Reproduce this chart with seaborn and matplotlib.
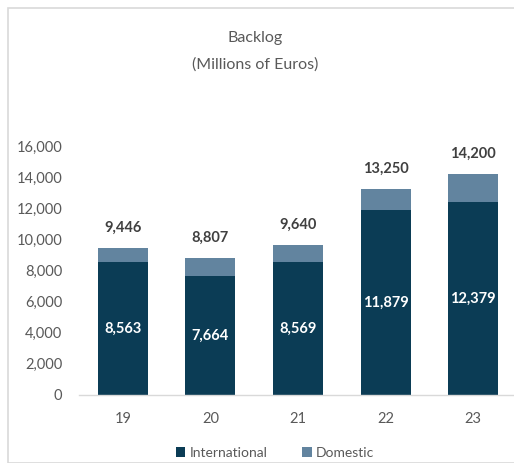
import matplotlib
matplotlib.use("Agg")
import matplotlib.pyplot as plt
import seaborn as sns
import pandas as pd
import numpy as np
from matplotlib.patches import Rectangle, Patch
from matplotlib.ticker import FuncFormatter, FixedLocator

years = ["19", "20", "21", "22", "23"]
international = [8563, 7664, 8569, 11879, 12379]
total = [9446, 8807, 9640, 13250, 14200]
series_names = ["International", "Domestic"]

c_int = "#0B3C55"
c_dom = "#62849F"
c_text = "#595959"

sns.set_theme(style="white")
plt.rcParams["font.family"] = ["Lato", "DejaVu Sans"]

df = pd.DataFrame({"year": years, "international": international, "total": total})

fig = plt.figure(figsize=(5.14, 4.63), dpi=100)
ax = fig.add_axes([79/514, 1-395/463, 438/514, 249/463])

sns.barplot(data=df, x="year", y="total", color=c_dom, width=0.57, ax=ax,
            saturation=1, linewidth=0)
sns.barplot(data=df, x="year", y="international", color=c_int, width=0.57, ax=ax,
            saturation=1, linewidth=0)

ax.set_ylim(0, 16000)
ax.set_xlim(-0.5, 4.5)
ax.set_yticks(np.arange(0, 16001, 2000))
ax.yaxis.set_major_formatter(FuncFormatter(lambda v, p: f"{int(v):,}"))
ax.set_xlabel("")
ax.set_ylabel("")
for s in ["top", "right", "left"]:
    ax.spines[s].set_visible(False)
ax.spines["bottom"].set_color("#D9D9D9")
ax.spines["bottom"].set_linewidth(1)
ax.tick_params(axis="y", length=0, labelsize=10.5, labelcolor=c_text, pad=12)
ax.tick_params(axis="x", which="major", length=0, labelsize=10.5, labelcolor=c_text, pad=12)
ax.xaxis.set_minor_locator(FixedLocator(np.arange(-0.5, 4.6, 1.0)))
ax.tick_params(axis="x", which="minor", length=5, color="#D9D9D9", width=1, direction="out")

for i, (iv, tv) in enumerate(zip(international, total)):
    ax.text(i, iv / 2, f"{iv:,}", ha="center", va="center", color="white",
            fontsize=10.5, fontweight="bold")
    ax.text(i, tv + 1300, f"{tv:,}", ha="center", va="center", color="#404040",
            fontsize=10.5, fontweight="bold", clip_on=False)

fig.text(0.497, 1-38/463, "Backlog", ha="center", va="center", fontsize=11.5, color=c_text)
fig.text(0.497, 1-65/463, "(Millions of Euros)", ha="center", va="center", fontsize=11.5, color=c_text)

handles = [Patch(facecolor=c_int, edgecolor="none"), Patch(facecolor=c_dom, edgecolor="none")]
fig.legend(handles, series_names, loc="center", bbox_to_anchor=(0.535, 1-453/463), ncol=2,
           frameon=False, fontsize=10, labelcolor=c_text, handlelength=0.7, handleheight=0.7,
           handletextpad=0.3, columnspacing=2.5)

fig.patches.append(Rectangle((8/514, 0), 1.0, 1-8/463, transform=fig.transFigure,
                             fill=False, edgecolor="#D9D9D9", linewidth=1.2))

fig.savefig("out.png", dpi=100)
